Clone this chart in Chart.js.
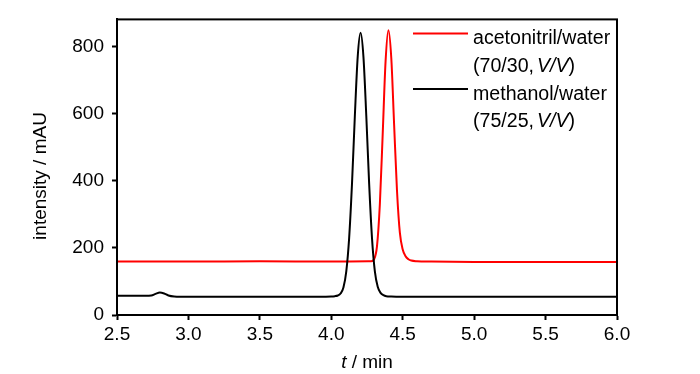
<!DOCTYPE html>
<html>
<head>
<meta charset="utf-8">
<script src="https://cdn.jsdelivr.net/npm/chart.js@4"></script>
<style>
  html, body { margin: 0; padding: 0; background: #fff; }
  #wrap { width: 700px; height: 374px; }
</style>
</head>
<body>
<div id="wrap"><canvas id="aChart" width="700" height="374"></canvas></div>
<script>
// values
let blackTime = [2.50, 2.60, 2.70, 2.74, 2.77, 2.80, 2.83, 2.86, 2.90, 3.00, 3.20, 3.40, 3.60, 3.80, 4.00,
  4.025, 4.045, 4.065, 4.085, 4.105, 4.125, 4.145, 4.165, 4.185, 4.205, 4.225, 4.245, 4.265, 4.285,
  4.305, 4.325, 4.345, 4.365, 4.385, 4.42, 4.60, 5.00, 5.50, 6.00]
let blackIntensity = [57, 57, 57, 58, 63, 67, 64, 58, 55, 54, 54, 54, 54, 54, 55,
  56, 58, 64, 82, 130, 229, 391, 593, 769, 840, 769, 593, 391, 229,
  130, 84, 66, 59, 56, 55, 54, 54, 54, 54]

let redTime = [2.50, 3.00, 3.50, 4.00, 4.26, 4.28, 4.30, 4.32, 4.34, 4.36, 4.38, 4.40, 4.42, 4.44,
  4.46, 4.48, 4.50, 4.52, 4.54, 4.56, 4.60, 4.70, 5.00, 5.50, 6.00]
let redIntensity = [159, 159, 160, 159, 160, 160, 166, 205, 330, 540, 755, 848, 765, 565,
  370, 245, 195, 175, 166, 162, 160, 159, 158, 158, 158]

let xTicks = [2.5, 3.0, 3.5, 4.0, 4.5, 5.0, 5.5, 6.0]
let yTicks = [0, 200, 400, 600, 800]

let legendItems = [
  { color: "#ff0000", name: "acetonitril/water", ratio: "70/30" },
  { color: "#000000", name: "methanol/water", ratio: "75/25" },
]

const FONT = "Liberation Sans, Arial, sans-serif"
Chart.defaults.font.family = FONT
Chart.defaults.font.size = 19
Chart.defaults.color = "#000"

function toPoints(xs, ys) {
  return xs.map((x, i) => ({ x: x, y: ys[i] }))
}

// frame, axis titles and the legend inside the plot
let decorations = {
  id: "decorations",
  afterDatasetsDraw(chart) {
    let ctx = chart.ctx
    let a = chart.chartArea
    ctx.save()
    ctx.strokeStyle = "#000"
    ctx.lineWidth = 2
    ctx.strokeRect(a.left, a.top, a.right - a.left, a.bottom - a.top)

    ctx.fillStyle = "#000"
    ctx.textBaseline = "alphabetic"

    // x title: italic t
    let normal = "19px " + FONT
    let italic = "italic 19px " + FONT
    ctx.font = italic
    let wT = ctx.measureText("t").width
    ctx.font = normal
    let wRest = ctx.measureText(" / min").width
    let x0 = (a.left + a.right) / 2 - (wT + wRest) / 2
    ctx.font = italic
    ctx.fillText("t", x0, 368)
    ctx.font = normal
    ctx.fillText(" / min", x0 + wT, 368)

    // y title
    ctx.save()
    ctx.translate(46, 176)
    ctx.rotate(-Math.PI / 2)
    ctx.textAlign = "center"
    ctx.fillText("intensity / mAU", 0, 0)
    ctx.restore()

    // legend
    let legNormal = "19.6px " + FONT
    let legItalic = "italic 19.6px " + FONT
    legendItems.forEach((item, i) => {
      let base = 44 + i * 55.5
      ctx.strokeStyle = item.color
      ctx.lineWidth = 2
      ctx.beginPath()
      ctx.moveTo(413, base - 10.5)
      ctx.lineTo(468, base - 10.5)
      ctx.stroke()
      ctx.font = legNormal
      ctx.fillText(item.name, 473, base)
      let line2 = base + 27.5
      let x = 473
      let s1 = "(" + item.ratio + ","
      ctx.fillText(s1, x, line2)
      x += ctx.measureText(s1).width + 3
      ctx.font = legItalic
      ctx.fillText("V/V", x, line2)
      x += ctx.measureText("V/V").width
      ctx.font = legNormal
      ctx.fillText(")", x, line2)
    })
    ctx.restore()
  },
}

let aChart = new Chart(document.getElementById("aChart"), {
  type: "line",
  data: {
    datasets: [
      {
        label: "methanol/water",
        data: toPoints(blackTime, blackIntensity),
        borderColor: "#000000",
        borderWidth: 2,
        pointRadius: 0,
        cubicInterpolationMode: "monotone",
      },
      {
        label: "acetonitril/water",
        data: toPoints(redTime, redIntensity),
        borderColor: "#ff0000",
        borderWidth: 2,
        pointRadius: 0,
        cubicInterpolationMode: "monotone",
      },
    ],
  },
  options: {
    responsive: false,
    animation: false,
    layout: { padding: { left: 0, top: 16, right: 83, bottom: 0 } },
    plugins: {
      legend: { display: false },
      tooltip: { enabled: false },
    },
    scales: {
      x: {
        type: "linear",
        min: 2.5,
        max: 6.0,
        afterBuildTicks: s => { s.ticks = xTicks.map(v => ({ value: v })) },
        afterFit: s => { s.height = 59 },
        ticks: {
          padding: 3,
          maxRotation: 0,
          callback: v => v.toFixed(1),
        },
        grid: { drawOnChartArea: false, tickLength: 5, tickWidth: 2, color: "#000" },
        border: { color: "#000", width: 2 },
      },
      y: {
        type: "linear",
        min: 0,
        max: 880,
        afterBuildTicks: s => { s.ticks = yTicks.map(v => ({ value: v })) },
        afterFit: s => { s.width = 117 },
        ticks: { padding: 8 },
        grid: { drawOnChartArea: false, tickLength: 5, tickWidth: 2, color: "#000" },
        border: { color: "#000", width: 2 },
      },
    },
  },
  plugins: [decorations],
});
</script>
</body>
</html>
